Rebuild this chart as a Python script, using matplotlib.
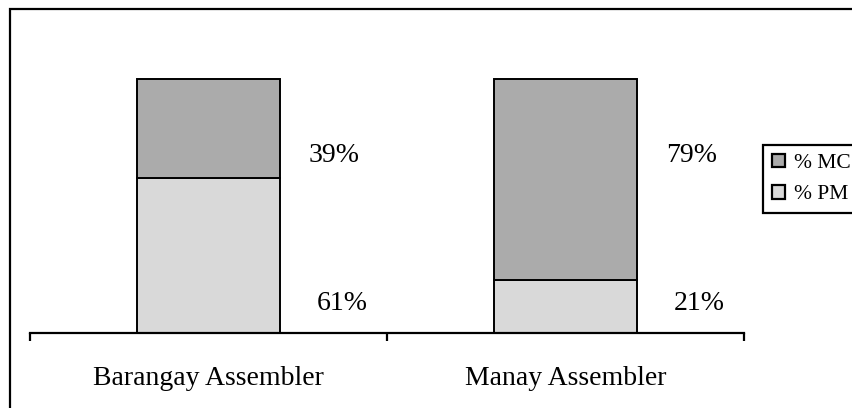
import matplotlib
matplotlib.use("Agg")
import matplotlib.pyplot as plt
from matplotlib.patches import Rectangle, Patch

plt.rcParams['font.family'] = ['Liberation Serif', 'DejaVu Serif']

categories = ["Barangay Assembler", "Manay Assembler"]
pct_pm = [61, 21]
pct_mc = [39, 79]
color_mc = "#ababab"
color_pm = "#d9d9d9"

fig = plt.figure(figsize=(8.52, 4.08), dpi=100)
W, H = 852, 408

# outer frame, runs off the right and bottom edges
fig.patches.append(Rectangle((10 / W, -0.1), 2.0, 1 - 9 / H + 0.1,
                             transform=fig.transFigure, fill=False,
                             edgecolor="black", linewidth=1.6))

ax = fig.add_axes([30 / W, 75 / H, 714 / W, 254 / H])
x = range(len(categories))
ax.bar(x, pct_pm, width=0.4, color=color_pm, edgecolor="black",
       linewidth=1.4, clip_on=False)
ax.bar(x, pct_mc, width=0.4, bottom=pct_pm, color=color_mc,
       edgecolor="black", linewidth=1.4, clip_on=False)

ax.set_xlim(-0.5, 1.5)
ax.set_ylim(0, 100)
for side in ["left", "right", "top"]:
    ax.spines[side].set_visible(False)
ax.spines["bottom"].set_linewidth(1.6)
ax.set_yticks([])
ax.set_xticks([-0.5, 0.5, 1.5])
ax.set_xticklabels([])
ax.tick_params(axis="x", direction="out", length=6, width=1.6)

for i, name in enumerate(categories):
    ax.text(i, -0.205, name, transform=ax.get_xaxis_transform(),
            ha="center", va="baseline", fontsize=20)
    # value labels to the right of each bar
    ax.text(i + 0.352, 67.3, f"{pct_mc[i]}%", ha="center", va="baseline",
            fontsize=20)
    ax.text(i + 0.374, 9.1, f"{pct_pm[i]}%", ha="center", va="baseline",
            fontsize=20)

handles = [Patch(facecolor=color_mc, edgecolor="black", linewidth=1.6),
           Patch(facecolor=color_pm, edgecolor="black", linewidth=1.6)]
leg = fig.legend(handles, ["% MC", "% PM"], loc="upper left",
                 bbox_to_anchor=(763 / W, 1 - 145 / H), borderaxespad=0,
                 fontsize=15.5, fancybox=False, framealpha=1,
                 handlelength=0.6, handleheight=0.6, handletextpad=0.45,
                 borderpad=0.4, labelspacing=0.55)
leg.get_frame().set_edgecolor("black")
leg.get_frame().set_linewidth(1.6)

fig.savefig("out.png", dpi=100)
